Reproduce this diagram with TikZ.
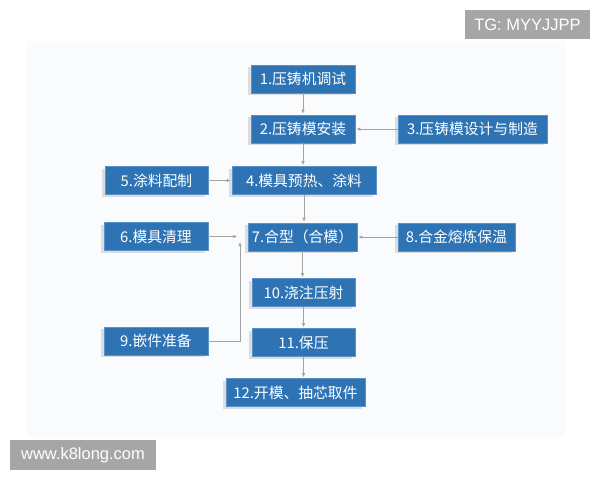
\documentclass[tikz,border=0pt]{standalone}
\usepackage{fontspec}
\newfontfamily\cjk{Noto Sans CJK SC}
\newfontfamily\sanslat{Liberation Sans}
\usetikzlibrary{arrows.meta,shadows}

\definecolor{boxblue}{HTML}{2E74B5}
\definecolor{boxedge}{HTML}{5A93CC}
\definecolor{linegray}{HTML}{A3A3A3}
\definecolor{markgray}{HTML}{A6A6A6}
\definecolor{panel}{HTML}{FAFBFC}

\begin{document}
\begin{tikzpicture}[x=1pt,y=-1pt,
   stepbox/.style={draw=boxedge,line width=0.6pt,fill=boxblue,text=white,
      font=\cjk\fontsize{14.8}{16}\selectfont,minimum height=28pt,inner sep=0pt,
      drop shadow={shadow xshift=-3pt,shadow yshift=-2pt,opacity=0.2,fill=black!60}},
   conn/.style={draw=linegray,line width=0.7pt,-{Latex[length=4pt,width=3.5pt]},shorten >=1pt},
   markbox/.style={fill=markgray,text=white,font=\sanslat\fontsize{16.5}{18}\selectfont,inner sep=0pt}]

   \useasboundingbox (0,0) rectangle (600,480);
   \fill[panel] (27,41) rectangle (565,437);

   \node[markbox,minimum width=125pt,minimum height=29pt] (tg) at (527.5,24.5) {TG: MYYJJPP};
   \node[markbox,minimum width=146pt,minimum height=30pt] (www) at (83,455) {www.k8long.com};

   \node[stepbox,minimum width=104pt] (b1) at (303,79) {1.压铸机调试};
   \node[stepbox,minimum width=104pt] (b2) at (303,129) {2.压铸模安装};
   \node[stepbox,minimum width=149pt] (b3) at (472.5,129) {3.压铸模设计与制造};
   \node[stepbox,minimum width=144pt] (b4) at (304,180.5) {4.模具预热、涂料};
   \node[stepbox,minimum width=103pt] (b5) at (156.5,180.5) {5.涂料配制};
   \node[stepbox,minimum width=104pt] (b6) at (156,236.5) {6.模具清理};
   \node[stepbox,minimum width=109pt] (b7) at (302.5,237) {7.合型（合模）};
   \node[stepbox,minimum width=117pt] (b8) at (456.5,237) {8.合金熔炼保温};
   \node[stepbox,minimum width=104pt] (b9) at (156,341) {9.嵌件准备};
   \node[stepbox,minimum width=103pt] (b10) at (303.5,292.5) {10.浇注压射};
   \node[stepbox,minimum width=103pt] (b11) at (303.5,342.5) {11.保压};
   \node[stepbox,minimum width=139pt] (b12) at (295.5,392.5) {12.开模、抽芯取件};

   \foreach \a/\b in {b1/b2,b2/b4,b4/b7,b7/b10,b10/b11,b11/b12}
   {
      \draw[conn] (\a.south) -- (\a.south |- \b.north);
   }

   \draw[conn] (b3.west) -- (b2.east);
   \draw[conn] (b5.east) -- (b4.west);
   \draw[conn] (b8.west) -- (b7.east);

   \path (b6.east) ++(30,0) coordinate (in6);
   \path (240,241) coordinate (in9);
   \draw[conn] (b6.east) -- (in6);
   \draw[conn] (b9.east) -| (in9);
\end{tikzpicture}
\end{document}
